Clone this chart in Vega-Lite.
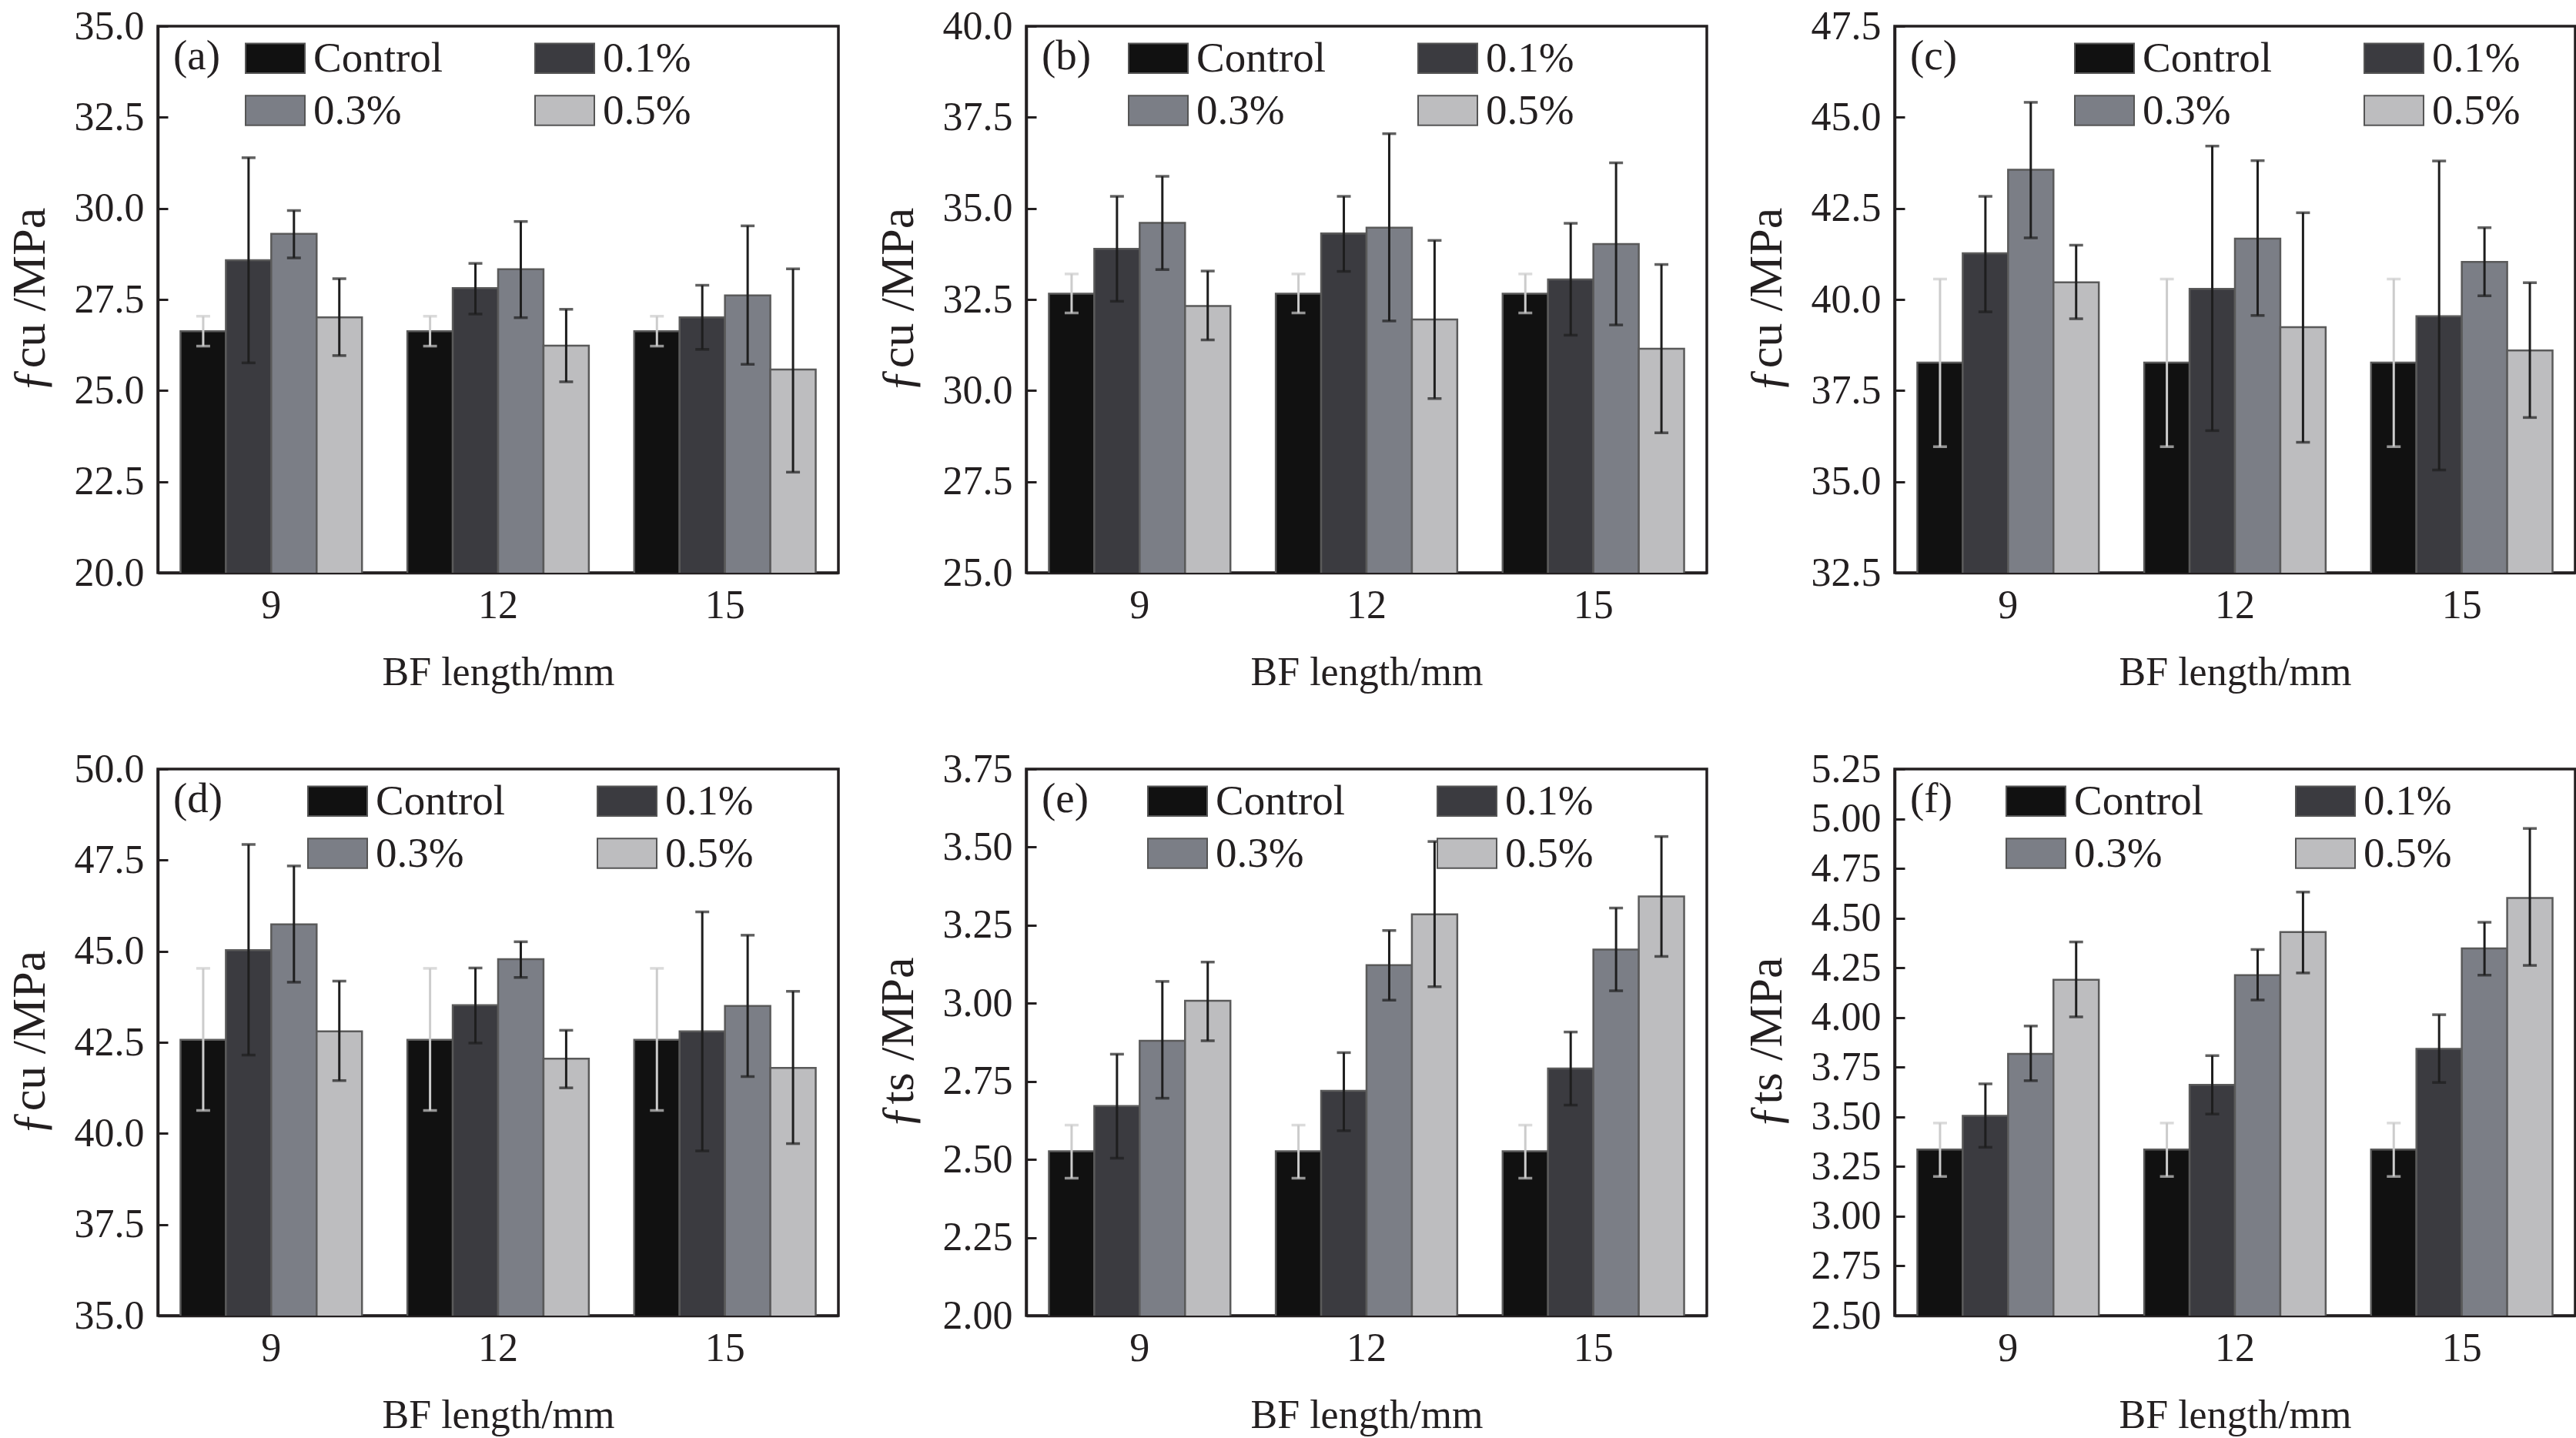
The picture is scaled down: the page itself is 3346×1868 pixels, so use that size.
{
  "$schema": "https://vega.github.io/schema/vega-lite/v6.json",
  "background": "white",
  "padding": {"left": 5, "top": 6, "right": 0, "bottom": 0},
  "datasets": {
    "a": [
      {"len": "9", "s": "Control", "v": 26.63, "lo": 26.22, "hi": 27.04},
      {"len": "9", "s": "0.1%", "v": 28.58, "lo": 25.76, "hi": 31.39},
      {"len": "9", "s": "0.3%", "v": 29.30, "lo": 28.64, "hi": 29.94},
      {"len": "9", "s": "0.5%", "v": 27.01, "lo": 25.96, "hi": 28.07},
      {"len": "12", "s": "Control", "v": 26.63, "lo": 26.22, "hi": 27.04},
      {"len": "12", "s": "0.1%", "v": 27.81, "lo": 27.10, "hi": 28.49},
      {"len": "12", "s": "0.3%", "v": 28.33, "lo": 27.00, "hi": 29.64},
      {"len": "12", "s": "0.5%", "v": 26.23, "lo": 25.24, "hi": 27.23},
      {"len": "15", "s": "Control", "v": 26.63, "lo": 26.22, "hi": 27.04},
      {"len": "15", "s": "0.1%", "v": 27.01, "lo": 26.13, "hi": 27.89},
      {"len": "15", "s": "0.3%", "v": 27.61, "lo": 25.72, "hi": 29.52},
      {"len": "15", "s": "0.5%", "v": 25.58, "lo": 22.76, "hi": 28.34}
    ],
    "b": [
      {"len": "9", "s": "Control", "v": 32.66, "lo": 32.13, "hi": 33.20},
      {"len": "9", "s": "0.1%", "v": 33.89, "lo": 32.45, "hi": 35.33},
      {"len": "9", "s": "0.3%", "v": 34.60, "lo": 33.32, "hi": 35.88},
      {"len": "9", "s": "0.5%", "v": 32.32, "lo": 31.39, "hi": 33.28},
      {"len": "12", "s": "Control", "v": 32.66, "lo": 32.13, "hi": 33.20},
      {"len": "12", "s": "0.1%", "v": 34.31, "lo": 33.27, "hi": 35.33},
      {"len": "12", "s": "0.3%", "v": 34.47, "lo": 31.91, "hi": 37.05},
      {"len": "12", "s": "0.5%", "v": 31.95, "lo": 29.78, "hi": 34.12},
      {"len": "15", "s": "Control", "v": 32.66, "lo": 32.13, "hi": 33.20},
      {"len": "15", "s": "0.1%", "v": 33.05, "lo": 31.52, "hi": 34.59},
      {"len": "15", "s": "0.3%", "v": 34.02, "lo": 31.80, "hi": 36.25},
      {"len": "15", "s": "0.5%", "v": 31.15, "lo": 28.84, "hi": 33.46}
    ],
    "c": [
      {"len": "9", "s": "Control", "v": 38.27, "lo": 35.96, "hi": 40.56},
      {"len": "9", "s": "0.1%", "v": 41.27, "lo": 39.66, "hi": 42.83},
      {"len": "9", "s": "0.3%", "v": 43.56, "lo": 41.69, "hi": 45.41},
      {"len": "9", "s": "0.5%", "v": 40.47, "lo": 39.47, "hi": 41.49},
      {"len": "12", "s": "Control", "v": 38.27, "lo": 35.96, "hi": 40.56},
      {"len": "12", "s": "0.1%", "v": 40.29, "lo": 36.40, "hi": 44.21},
      {"len": "12", "s": "0.3%", "v": 41.67, "lo": 39.56, "hi": 43.81},
      {"len": "12", "s": "0.5%", "v": 39.24, "lo": 36.08, "hi": 42.38},
      {"len": "15", "s": "Control", "v": 38.27, "lo": 35.96, "hi": 40.56},
      {"len": "15", "s": "0.1%", "v": 39.54, "lo": 35.32, "hi": 43.80},
      {"len": "15", "s": "0.3%", "v": 41.03, "lo": 40.10, "hi": 41.97},
      {"len": "15", "s": "0.5%", "v": 38.60, "lo": 36.76, "hi": 40.46}
    ],
    "d": [
      {"len": "9", "s": "Control", "v": 42.57, "lo": 40.63, "hi": 44.53},
      {"len": "9", "s": "0.1%", "v": 45.03, "lo": 42.15, "hi": 47.93},
      {"len": "9", "s": "0.3%", "v": 45.74, "lo": 44.15, "hi": 47.34},
      {"len": "9", "s": "0.5%", "v": 42.80, "lo": 41.45, "hi": 44.18},
      {"len": "12", "s": "Control", "v": 42.57, "lo": 40.63, "hi": 44.53},
      {"len": "12", "s": "0.1%", "v": 43.52, "lo": 42.48, "hi": 44.54},
      {"len": "12", "s": "0.3%", "v": 44.78, "lo": 44.28, "hi": 45.26},
      {"len": "12", "s": "0.5%", "v": 42.05, "lo": 41.25, "hi": 42.83},
      {"len": "15", "s": "Control", "v": 42.57, "lo": 40.63, "hi": 44.53},
      {"len": "15", "s": "0.1%", "v": 42.80, "lo": 39.52, "hi": 46.08},
      {"len": "15", "s": "0.3%", "v": 43.50, "lo": 41.56, "hi": 45.44},
      {"len": "15", "s": "0.5%", "v": 41.80, "lo": 39.72, "hi": 43.90}
    ],
    "e": [
      {"len": "9", "s": "Control", "v": 2.526, "lo": 2.44, "hi": 2.61},
      {"len": "9", "s": "0.1%", "v": 2.671, "lo": 2.504, "hi": 2.837},
      {"len": "9", "s": "0.3%", "v": 2.880, "lo": 2.696, "hi": 3.070},
      {"len": "9", "s": "0.5%", "v": 3.008, "lo": 2.880, "hi": 3.132},
      {"len": "12", "s": "Control", "v": 2.526, "lo": 2.44, "hi": 2.61},
      {"len": "12", "s": "0.1%", "v": 2.720, "lo": 2.592, "hi": 2.842},
      {"len": "12", "s": "0.3%", "v": 3.122, "lo": 3.010, "hi": 3.233},
      {"len": "12", "s": "0.5%", "v": 3.285, "lo": 3.053, "hi": 3.518},
      {"len": "15", "s": "Control", "v": 2.526, "lo": 2.44, "hi": 2.61},
      {"len": "15", "s": "0.1%", "v": 2.791, "lo": 2.674, "hi": 2.908},
      {"len": "15", "s": "0.3%", "v": 3.172, "lo": 3.040, "hi": 3.305},
      {"len": "15", "s": "0.5%", "v": 3.342, "lo": 3.150, "hi": 3.534}
    ],
    "f": [
      {"len": "9", "s": "Control", "v": 3.336, "lo": 3.200, "hi": 3.469},
      {"len": "9", "s": "0.1%", "v": 3.505, "lo": 3.347, "hi": 3.666},
      {"len": "9", "s": "0.3%", "v": 3.817, "lo": 3.682, "hi": 3.957},
      {"len": "9", "s": "0.5%", "v": 4.190, "lo": 4.003, "hi": 4.380},
      {"len": "12", "s": "Control", "v": 3.336, "lo": 3.200, "hi": 3.469},
      {"len": "12", "s": "0.1%", "v": 3.661, "lo": 3.514, "hi": 3.808},
      {"len": "12", "s": "0.3%", "v": 4.213, "lo": 4.088, "hi": 4.342},
      {"len": "12", "s": "0.5%", "v": 4.430, "lo": 4.224, "hi": 4.631},
      {"len": "15", "s": "Control", "v": 3.336, "lo": 3.200, "hi": 3.469},
      {"len": "15", "s": "0.1%", "v": 3.842, "lo": 3.673, "hi": 4.014},
      {"len": "15", "s": "0.3%", "v": 4.348, "lo": 4.213, "hi": 4.479},
      {"len": "15", "s": "0.5%", "v": 4.601, "lo": 4.262, "hi": 4.951}
    ]
  },
  "columns": 3,
  "spacing": {"row": 70, "column": 42},
  "resolve": {
    "scale": {"x": "independent", "y": "independent", "color": "independent"},
    "legend": {"color": "independent"}
  },
  "concat": [
    {
      "data": {"name": "a"},
      "width": 884, "height": 710,
      "encoding": {
        "x": {"field": "len", "type": "nominal", "sort": ["9", "12", "15"], "scale": {"paddingInner": 0.2, "paddingOuter": 0.1}, "title": "BF length/mm"},
        "xOffset": {"field": "s", "type": "nominal", "sort": ["Control", "0.1%", "0.3%", "0.5%"]}
      },
      "layer": [
        {
          "mark": {"type": "bar", "stroke": "#5a5a5a", "strokeWidth": 2.5, "clip": true},
          "encoding": {
            "y": {"field": "v", "type": "quantitative", "title": "ƒcu /MPa", "scale": {"domain": [20, 35], "nice": false, "zero": false}, "axis": {"values": [20, 22.5, 25, 27.5, 30, 32.5, 35], "format": ".1f"}},
            "color": {"field": "s", "type": "nominal", "scale": {"domain": ["Control", "0.1%", "0.3%", "0.5%"], "range": ["#111111", "#3b3b40", "#7b7e86", "#bdbdbf"]}, "legend": {"title": "(a)", "titlePadding": 31, "legendX": 20, "legendY": 2}}
          }
        },
        {
          "mark": {"type": "rule", "strokeWidth": 3},
          "encoding": {
            "y": {"field": "lo", "type": "quantitative", "title": "ƒcu /MPa"},
            "y2": {"field": "hi"},
            "color": {"condition": {"test": "datum.s === 'Control'", "value": "#cccccc"}, "value": "#1e1e1e"}
          }
        },
        {
          "mark": {"type": "tick", "thickness": 3.5, "size": 18},
          "encoding": {
            "y": {"field": "hi", "type": "quantitative", "title": "ƒcu /MPa"},
            "color": {"condition": {"test": "datum.s === 'Control'", "value": "#cccccc"}, "value": "#1e1e1e"}
          }
        },
        {
          "mark": {"type": "tick", "thickness": 3.5, "size": 18},
          "encoding": {
            "y": {"field": "lo", "type": "quantitative", "title": "ƒcu /MPa"},
            "color": {"condition": {"test": "datum.s === 'Control'", "value": "#cccccc"}, "value": "#1e1e1e"}
          }
        }
      ]
    },
    {
      "data": {"name": "b"},
      "width": 884, "height": 710,
      "encoding": {
        "x": {"field": "len", "type": "nominal", "sort": ["9", "12", "15"], "scale": {"paddingInner": 0.2, "paddingOuter": 0.1}, "title": "BF length/mm"},
        "xOffset": {"field": "s", "type": "nominal", "sort": ["Control", "0.1%", "0.3%", "0.5%"]}
      },
      "layer": [
        {
          "mark": {"type": "bar", "stroke": "#5a5a5a", "strokeWidth": 2.5, "clip": true},
          "encoding": {
            "y": {"field": "v", "type": "quantitative", "title": "ƒcu /MPa", "scale": {"domain": [25, 40], "nice": false, "zero": false}, "axis": {"values": [25, 27.5, 30, 32.5, 35, 37.5, 40], "format": ".1f"}},
            "color": {"field": "s", "type": "nominal", "scale": {"domain": ["Control", "0.1%", "0.3%", "0.5%"], "range": ["#111111", "#3b3b40", "#7b7e86", "#bdbdbf"]}, "legend": {"title": "(b)", "titlePadding": 47, "legendX": 20, "legendY": 2}}
          }
        },
        {
          "mark": {"type": "rule", "strokeWidth": 3},
          "encoding": {
            "y": {"field": "lo", "type": "quantitative", "title": "ƒcu /MPa"},
            "y2": {"field": "hi"},
            "color": {"condition": {"test": "datum.s === 'Control'", "value": "#cccccc"}, "value": "#1e1e1e"}
          }
        },
        {
          "mark": {"type": "tick", "thickness": 3.5, "size": 18},
          "encoding": {
            "y": {"field": "hi", "type": "quantitative", "title": "ƒcu /MPa"},
            "color": {"condition": {"test": "datum.s === 'Control'", "value": "#cccccc"}, "value": "#1e1e1e"}
          }
        },
        {
          "mark": {"type": "tick", "thickness": 3.5, "size": 18},
          "encoding": {
            "y": {"field": "lo", "type": "quantitative", "title": "ƒcu /MPa"},
            "color": {"condition": {"test": "datum.s === 'Control'", "value": "#cccccc"}, "value": "#1e1e1e"}
          }
        }
      ]
    },
    {
      "data": {"name": "c"},
      "width": 884, "height": 710,
      "encoding": {
        "x": {"field": "len", "type": "nominal", "sort": ["9", "12", "15"], "scale": {"paddingInner": 0.2, "paddingOuter": 0.1}, "title": "BF length/mm"},
        "xOffset": {"field": "s", "type": "nominal", "sort": ["Control", "0.1%", "0.3%", "0.5%"]}
      },
      "layer": [
        {
          "mark": {"type": "bar", "stroke": "#5a5a5a", "strokeWidth": 2.5, "clip": true},
          "encoding": {
            "y": {"field": "v", "type": "quantitative", "title": "ƒcu /MPa", "scale": {"domain": [32.5, 47.5], "nice": false, "zero": false}, "axis": {"values": [32.5, 35, 37.5, 40, 42.5, 45, 47.5], "format": ".1f"}},
            "color": {"field": "s", "type": "nominal", "scale": {"domain": ["Control", "0.1%", "0.3%", "0.5%"], "range": ["#111111", "#3b3b40", "#7b7e86", "#bdbdbf"]}, "legend": {"title": "(c)", "titlePadding": 151, "legendX": 20, "legendY": 2}}
          }
        },
        {
          "mark": {"type": "rule", "strokeWidth": 3},
          "encoding": {
            "y": {"field": "lo", "type": "quantitative", "title": "ƒcu /MPa"},
            "y2": {"field": "hi"},
            "color": {"condition": {"test": "datum.s === 'Control'", "value": "#cccccc"}, "value": "#1e1e1e"}
          }
        },
        {
          "mark": {"type": "tick", "thickness": 3.5, "size": 18},
          "encoding": {
            "y": {"field": "hi", "type": "quantitative", "title": "ƒcu /MPa"},
            "color": {"condition": {"test": "datum.s === 'Control'", "value": "#cccccc"}, "value": "#1e1e1e"}
          }
        },
        {
          "mark": {"type": "tick", "thickness": 3.5, "size": 18},
          "encoding": {
            "y": {"field": "lo", "type": "quantitative", "title": "ƒcu /MPa"},
            "color": {"condition": {"test": "datum.s === 'Control'", "value": "#cccccc"}, "value": "#1e1e1e"}
          }
        }
      ]
    },
    {
      "data": {"name": "d"},
      "width": 884, "height": 710,
      "encoding": {
        "x": {"field": "len", "type": "nominal", "sort": ["9", "12", "15"], "scale": {"paddingInner": 0.2, "paddingOuter": 0.1}, "title": "BF length/mm"},
        "xOffset": {"field": "s", "type": "nominal", "sort": ["Control", "0.1%", "0.3%", "0.5%"]}
      },
      "layer": [
        {
          "mark": {"type": "bar", "stroke": "#5a5a5a", "strokeWidth": 2.5, "clip": true},
          "encoding": {
            "y": {"field": "v", "type": "quantitative", "title": "ƒcu /MPa", "scale": {"domain": [35, 50], "nice": false, "zero": false}, "axis": {"values": [35, 37.5, 40, 42.5, 45, 47.5, 50], "format": ".1f"}},
            "color": {"field": "s", "type": "nominal", "scale": {"domain": ["Control", "0.1%", "0.3%", "0.5%"], "range": ["#111111", "#3b3b40", "#7b7e86", "#bdbdbf"]}, "legend": {"title": "(d)", "titlePadding": 109, "legendX": 20, "legendY": 2}}
          }
        },
        {
          "mark": {"type": "rule", "strokeWidth": 3},
          "encoding": {
            "y": {"field": "lo", "type": "quantitative", "title": "ƒcu /MPa"},
            "y2": {"field": "hi"},
            "color": {"condition": {"test": "datum.s === 'Control'", "value": "#cccccc"}, "value": "#1e1e1e"}
          }
        },
        {
          "mark": {"type": "tick", "thickness": 3.5, "size": 18},
          "encoding": {
            "y": {"field": "hi", "type": "quantitative", "title": "ƒcu /MPa"},
            "color": {"condition": {"test": "datum.s === 'Control'", "value": "#cccccc"}, "value": "#1e1e1e"}
          }
        },
        {
          "mark": {"type": "tick", "thickness": 3.5, "size": 18},
          "encoding": {
            "y": {"field": "lo", "type": "quantitative", "title": "ƒcu /MPa"},
            "color": {"condition": {"test": "datum.s === 'Control'", "value": "#cccccc"}, "value": "#1e1e1e"}
          }
        }
      ]
    },
    {
      "data": {"name": "e"},
      "width": 884, "height": 710,
      "encoding": {
        "x": {"field": "len", "type": "nominal", "sort": ["9", "12", "15"], "scale": {"paddingInner": 0.2, "paddingOuter": 0.1}, "title": "BF length/mm"},
        "xOffset": {"field": "s", "type": "nominal", "sort": ["Control", "0.1%", "0.3%", "0.5%"]}
      },
      "layer": [
        {
          "mark": {"type": "bar", "stroke": "#5a5a5a", "strokeWidth": 2.5, "clip": true},
          "encoding": {
            "y": {"field": "v", "type": "quantitative", "title": "ƒts /MPa", "scale": {"domain": [2, 3.75], "nice": false, "zero": false}, "axis": {"values": [2, 2.25, 2.5, 2.75, 3, 3.25, 3.5, 3.75], "format": ".2f"}},
            "color": {"field": "s", "type": "nominal", "scale": {"domain": ["Control", "0.1%", "0.3%", "0.5%"], "range": ["#111111", "#3b3b40", "#7b7e86", "#bdbdbf"]}, "legend": {"title": "(e)", "titlePadding": 75, "legendX": 20, "legendY": 2}}
          }
        },
        {
          "mark": {"type": "rule", "strokeWidth": 3},
          "encoding": {
            "y": {"field": "lo", "type": "quantitative", "title": "ƒts /MPa"},
            "y2": {"field": "hi"},
            "color": {"condition": {"test": "datum.s === 'Control'", "value": "#cccccc"}, "value": "#1e1e1e"}
          }
        },
        {
          "mark": {"type": "tick", "thickness": 3.5, "size": 18},
          "encoding": {
            "y": {"field": "hi", "type": "quantitative", "title": "ƒts /MPa"},
            "color": {"condition": {"test": "datum.s === 'Control'", "value": "#cccccc"}, "value": "#1e1e1e"}
          }
        },
        {
          "mark": {"type": "tick", "thickness": 3.5, "size": 18},
          "encoding": {
            "y": {"field": "lo", "type": "quantitative", "title": "ƒts /MPa"},
            "color": {"condition": {"test": "datum.s === 'Control'", "value": "#cccccc"}, "value": "#1e1e1e"}
          }
        }
      ]
    },
    {
      "data": {"name": "f"},
      "width": 884, "height": 710,
      "encoding": {
        "x": {"field": "len", "type": "nominal", "sort": ["9", "12", "15"], "scale": {"paddingInner": 0.2, "paddingOuter": 0.1}, "title": "BF length/mm"},
        "xOffset": {"field": "s", "type": "nominal", "sort": ["Control", "0.1%", "0.3%", "0.5%"]}
      },
      "layer": [
        {
          "mark": {"type": "bar", "stroke": "#5a5a5a", "strokeWidth": 2.5, "clip": true},
          "encoding": {
            "y": {"field": "v", "type": "quantitative", "title": "ƒts /MPa", "scale": {"domain": [2.5, 5.25], "nice": false, "zero": false}, "axis": {"values": [2.5, 2.75, 3, 3.25, 3.5, 3.75, 4, 4.25, 4.5, 4.75, 5, 5.25], "format": ".2f"}},
            "color": {"field": "s", "type": "nominal", "scale": {"domain": ["Control", "0.1%", "0.3%", "0.5%"], "range": ["#111111", "#3b3b40", "#7b7e86", "#bdbdbf"]}, "legend": {"title": "(f)", "titlePadding": 69, "legendX": 20, "legendY": 2}}
          }
        },
        {
          "mark": {"type": "rule", "strokeWidth": 3},
          "encoding": {
            "y": {"field": "lo", "type": "quantitative", "title": "ƒts /MPa"},
            "y2": {"field": "hi"},
            "color": {"condition": {"test": "datum.s === 'Control'", "value": "#cccccc"}, "value": "#1e1e1e"}
          }
        },
        {
          "mark": {"type": "tick", "thickness": 3.5, "size": 18},
          "encoding": {
            "y": {"field": "hi", "type": "quantitative", "title": "ƒts /MPa"},
            "color": {"condition": {"test": "datum.s === 'Control'", "value": "#cccccc"}, "value": "#1e1e1e"}
          }
        },
        {
          "mark": {"type": "tick", "thickness": 3.5, "size": 18},
          "encoding": {
            "y": {"field": "lo", "type": "quantitative", "title": "ƒts /MPa"},
            "color": {"condition": {"test": "datum.s === 'Control'", "value": "#cccccc"}, "value": "#1e1e1e"}
          }
        }
      ]
    }
  ],
  "config": {
    "font": "Liberation Serif",
    "view": {"stroke": "#231f20", "strokeWidth": 3.5},
    "axis": {
      "grid": false,
      "labelFont": "Liberation Serif",
      "labelFontSize": 52,
      "labelColor": "#231f20",
      "titleFont": "Liberation Serif",
      "titleFontWeight": "normal",
      "titleColor": "#231f20",
      "domainColor": "#231f20",
      "domainWidth": 3.5,
      "tickColor": "#231f20",
      "tickWidth": 3
    },
    "axisY": {"tickSize": -13, "labelPadding": 31, "titleFontSize": 62, "titlePadding": 26},
    "axisX": {"tickSize": -13, "labelPadding": 30, "labelAngle": 0, "titleFontSize": 52, "titlePadding": 36},
    "legend": {
      "orient": "none",
      "direction": "horizontal",
      "columns": 2,
      "padding": 0,
      "titleOrient": "left",
      "titleAnchor": "start",
      "titleBaseline": "line-top",
      "titleLineHeight": 77,
      "titleFont": "Liberation Serif",
      "titleFontSize": 55,
      "titleFontWeight": "normal",
      "titleColor": "#231f20",
      "labelFont": "Liberation Serif",
      "labelFontSize": 55,
      "labelColor": "#231f20",
      "labelLimit": 400,
      "labelOffset": 10,
      "columnPadding": 115,
      "rowPadding": -10,
      "symbolType": "M-1,-0.5H1V0.5H-1Z",
      "symbolSize": 5929,
      "symbolStrokeColor": "#555555",
      "symbolStrokeWidth": 2,
      "symbolOpacity": 1
    }
  }
}
